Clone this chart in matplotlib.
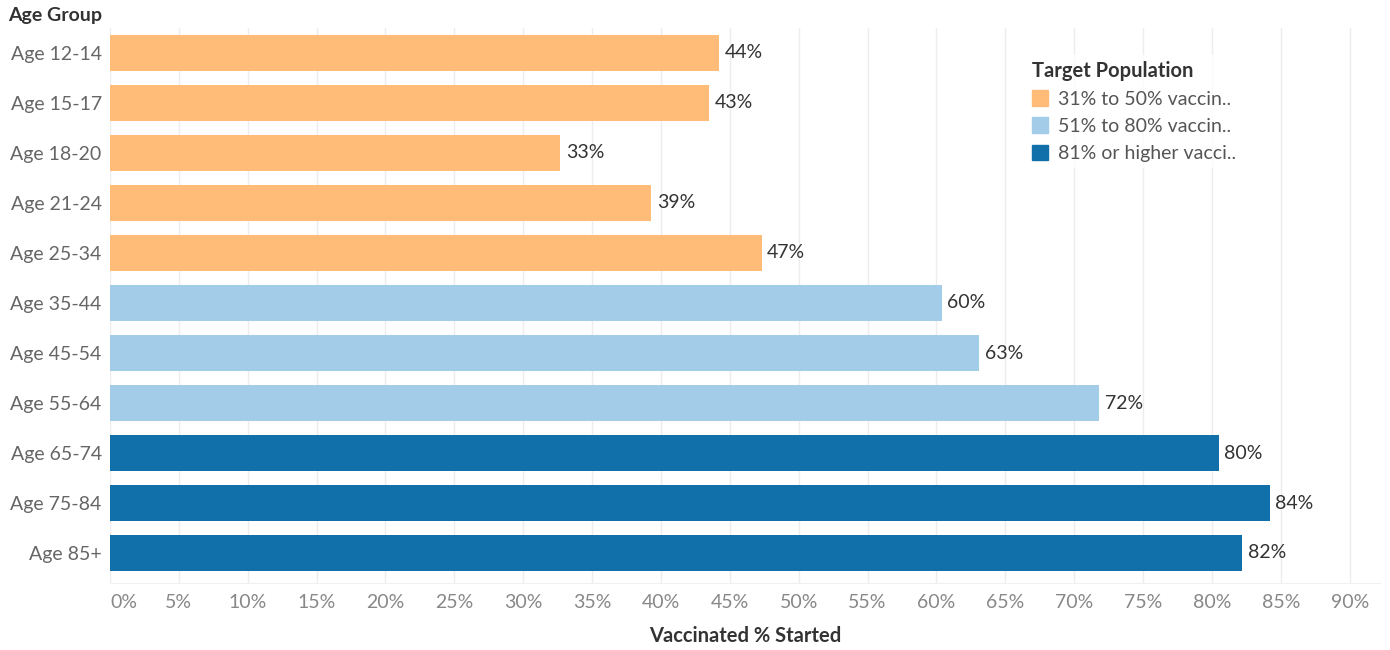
import matplotlib.pyplot as plt
from matplotlib.patches import Patch
import numpy as np

plt.rcParams['font.family'] = ['Lato', 'DejaVu Sans']

age_groups = ['Age 12-14', 'Age 15-17', 'Age 18-20', 'Age 21-24', 'Age 25-34',
              'Age 35-44', 'Age 45-54', 'Age 55-64', 'Age 65-74', 'Age 75-84', 'Age 85+']
pct_started = [44.2, 43.5, 32.7, 39.3, 47.3, 60.4, 63.1, 71.8, 80.5, 84.2, 82.2]
pct_labels = ['44%', '43%', '33%', '39%', '47%', '60%', '63%', '72%', '80%', '84%', '82%']
group = [0, 0, 0, 0, 0, 1, 1, 1, 2, 2, 2]
legend_labels = ['31% to 50% vaccin..', '51% to 80% vaccin..', '81% or higher vacci..']
palette = ['#FFBC79', '#A3CCE9', '#1170AA']

fig = plt.figure(figsize=(13.9, 6.5), dpi=100)
ax = fig.add_axes([110 / 1390, 1 - 583 / 650, 1270 / 1390, 555 / 650])

y = np.arange(len(age_groups))
ax.barh(y, pct_started, height=0.72, color=[palette[g] for g in group], zorder=2)
for yi, v, lab in zip(y, pct_started, pct_labels):
    ax.text(v + 0.4, yi, lab, va='center', ha='left', fontsize=14, color='#333333')

ax.set_ylim(len(age_groups) - 0.4, -0.5)
ax.set_xlim(0, 92.2)
ax.set_yticks(y)
ax.set_yticklabels(age_groups, fontsize=14, color='#666666')
xt = np.arange(0, 91, 5)
ax.set_xticks(xt)
ax.set_xticklabels([f'{t}%' for t in xt], fontsize=14, color='#888888')
ax.get_xticklabels()[0].set_horizontalalignment('left')
ax.tick_params(length=0, pad=8)
ax.tick_params(axis='y', pad=6)
ax.grid(axis='x', color='#EDEDED', linewidth=1, zorder=0)
for s in ['top', 'right', 'left']:
    ax.spines[s].set_visible(False)
ax.spines['bottom'].set_color('#F0F0F0')

fig.text(8 / 1390, 1 - 16 / 650, 'Age Group', fontsize=14, fontweight='bold',
         color='#333333', va='center', ha='left')
fig.text(745 / 1390, 1 - 636 / 650, 'Vaccinated % Started', fontsize=14.5,
         fontweight='bold', color='#333333', va='center', ha='center')

handles = [Patch(color=c) for c in palette]
leg = ax.legend(handles, legend_labels, title='Target Population', loc='upper left',
                bbox_to_anchor=(1016 / 1390, 1 - 45 / 650), bbox_transform=fig.transFigure,
                frameon=True, fontsize=14, title_fontsize=14.5,
                handlelength=0.85, handleheight=0.85, handletextpad=0.5,
                labelspacing=0.5, borderpad=0.3, alignment='left')
leg.get_frame().set_facecolor('white')
leg.get_frame().set_edgecolor('none')
leg.get_title().set_fontweight('bold')
leg.get_title().set_color('#333333')
for t in leg.get_texts():
    t.set_color('#555555')

fig.savefig('out.png', dpi=100, facecolor='white')
